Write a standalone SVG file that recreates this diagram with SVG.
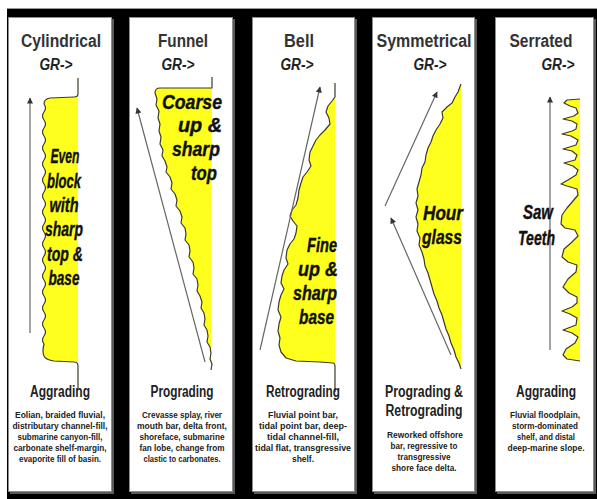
<svg xmlns="http://www.w3.org/2000/svg" width="597" height="499" viewBox="0 0 597 499">
<style>
.shadow{fill:#5a5a5a}
.panel{fill:#fff;stroke:#8c8c8c;stroke-width:1}
.title{font-family:"Liberation Sans",Arial,sans-serif;font-weight:bold;font-size:18px;fill:#333;text-anchor:middle}
.gr{font-family:"Liberation Sans",Arial,sans-serif;font-weight:bold;font-style:italic;font-size:16px;fill:#222;text-anchor:middle}
.big{font-family:"Liberation Sans",Arial,sans-serif;font-weight:bold;font-style:italic;font-size:20px;fill:#111;stroke:#111;stroke-width:0.4}
.c{text-anchor:middle}
.e{text-anchor:end}
.mode{font-family:"Liberation Sans",Arial,sans-serif;font-weight:bold;font-size:16px;fill:#222;text-anchor:middle}
.desc{font-family:"Liberation Sans",Arial,sans-serif;font-weight:bold;font-size:9px;fill:#222;text-anchor:middle}
.log{fill:#ffff1e;stroke:#3c3c28;stroke-width:1.2;stroke-linejoin:round}
.arrow{fill:none;stroke:#666;stroke-width:1.2;marker-end:url(#ah)}
</style>
<defs>
<marker id="ah" viewBox="0 0 10 10" refX="9" refY="5" markerWidth="8" markerHeight="6" orient="auto" markerUnits="userSpaceOnUse"><path d="M0,0 L10,5 L0,10 Z" fill="#333"/></marker>
</defs>
<rect x="0" y="0" width="597" height="499" fill="#fff"/>
<rect x="7" y="8" width="590" height="491" fill="#000"/>
<line x1="7" y1="8.5" x2="597" y2="8.5" stroke="#999" stroke-width="1"/>

<g id="panel-cylindrical">
<rect class="shadow" x="10" y="19" width="104" height="475"/>
<rect class="panel" x="8.5" y="17.5" width="103" height="474"/>
<text class="title" x="61" y="47" textLength="80" lengthAdjust="spacingAndGlyphs">Cylindrical</text>
<text class="gr" x="56" y="70" textLength="33" lengthAdjust="spacingAndGlyphs">GR-&gt;</text>
<path class="log" d="M78,78 V94 Q78,97 74,97 L50,98 Q44,99 44,104 Q47,108 44,112 T44,120 T44,128 T44,136 T44,144 T44,152 T44,160 T44,168 T44,176 T44,184 T44,192 T44,200 T44,208 T44,216 T44,224 T44,232 T44,240 T44,248 T44,256 T44,264 T44,272 T44,280 T44,288 T44,296 T44,304 T44,312 T44,320 T44,328 T44,336 T44,344 Q42,352 44,356 Q46,360 54,361 L74,362 Q78,362 78,366 V390"/>
<path class="arrow" d="M30,333 L30,98"/>
<text class="big c"><tspan x="65" y="163" textLength="29" lengthAdjust="spacingAndGlyphs">Even</tspan><tspan x="64" y="188" textLength="34" lengthAdjust="spacingAndGlyphs">block</tspan><tspan x="64" y="212" textLength="29" lengthAdjust="spacingAndGlyphs">with</tspan><tspan x="64" y="236" textLength="38" lengthAdjust="spacingAndGlyphs">sharp</tspan><tspan x="65" y="261" textLength="36" lengthAdjust="spacingAndGlyphs">top &amp;</tspan><tspan x="64" y="285" textLength="31" lengthAdjust="spacingAndGlyphs">base</tspan></text>
<text class="mode" x="60" y="397" textLength="60" lengthAdjust="spacingAndGlyphs">Aggrading</text>
<text class="desc"><tspan x="60" y="418" textLength="90" lengthAdjust="spacingAndGlyphs">Eolian, braided fluvial,</tspan><tspan x="60" y="429" textLength="95" lengthAdjust="spacingAndGlyphs">distributary channel-fill,</tspan><tspan x="60" y="440" textLength="85" lengthAdjust="spacingAndGlyphs">submarine canyon-fill,</tspan><tspan x="60" y="451" textLength="93" lengthAdjust="spacingAndGlyphs">carbonate shelf-margin,</tspan><tspan x="60" y="462" textLength="82" lengthAdjust="spacingAndGlyphs">evaporite fill of  basin.</tspan></text>
</g>

<g id="panel-funnel">
<rect class="shadow" x="131" y="19" width="104" height="475"/>
<rect class="panel" x="129.5" y="17.5" width="103" height="474"/>
<text class="title" x="183" y="47" textLength="50" lengthAdjust="spacingAndGlyphs">Funnel</text>
<text class="gr" x="178" y="70" textLength="33" lengthAdjust="spacingAndGlyphs">GR-&gt;</text>
<path class="log" d="M212,77 V88 L160,88 Q155,88 155,93 L157,99 L156,105 L159,111 L158,118 L160,124 L159,131 L161,137 L160,144 L163,150 L162,156 L165,161 L167,167 L166,172 L170,177 L172,183 L171,189 L175,194 L177,200 L176,206 L180,211 L182,217 L181,223 L185,228 L186,234 L185,240 L189,245 L190,251 L189,257 L193,262 L194,268 L193,274 L197,279 L198,285 L197,291 L200,296 L202,302 L201,308 L204,313 L205,319 L204,325 L207,330 L208,336 L207,342 L210,347 L211,353 L210,359 L212,364 L211,370"/>
<path class="arrow" d="M205,362 L137,108"/>
<text class="big e"><tspan x="222" y="109" textLength="60" lengthAdjust="spacingAndGlyphs">Coarse</tspan><tspan x="222" y="132" textLength="44" lengthAdjust="spacingAndGlyphs">up &amp;</tspan><tspan x="220" y="156" textLength="48" lengthAdjust="spacingAndGlyphs">sharp</tspan><tspan x="217" y="180" textLength="26" lengthAdjust="spacingAndGlyphs">top</tspan></text>
<text class="mode" x="182" y="397" textLength="63" lengthAdjust="spacingAndGlyphs">Prograding</text>
<text class="desc"><tspan x="182" y="418" textLength="80" lengthAdjust="spacingAndGlyphs">Crevasse splay, river</tspan><tspan x="182" y="429" textLength="90" lengthAdjust="spacingAndGlyphs">mouth bar, delta front,</tspan><tspan x="182" y="440" textLength="85" lengthAdjust="spacingAndGlyphs">shoreface, submarine</tspan><tspan x="182" y="451" textLength="85" lengthAdjust="spacingAndGlyphs">fan lobe, change from</tspan><tspan x="182" y="462" textLength="77" lengthAdjust="spacingAndGlyphs">clastic to carbonates.</tspan></text>
</g>

<g id="panel-bell">
<rect class="shadow" x="254" y="19" width="103" height="475"/>
<rect class="panel" x="252.5" y="17.5" width="102" height="474"/>
<text class="title" x="299" y="47" textLength="30" lengthAdjust="spacingAndGlyphs">Bell</text>
<text class="gr" x="297" y="70" textLength="33" lengthAdjust="spacingAndGlyphs">GR-&gt;</text>
<path class="log" d="M335,83 V97 L332,101 L328,106 L326,112 L329,118 L330,124 L325,130 L320,135 L316,140 L313,146 L310,152 L309,160 L311,166 L307,172 L303,177 L301,183 L299,190 L298,198 L296,205 L292,210 L290,216 L293,221 L297,226 L296,233 L294,239 L290,244 L287,250 L286,258 L288,264 L284,270 L282,276 L281,283 L284,289 L281,295 L279,302 L278,310 L281,317 L279,324 L278,331 L280,338 L279,345 L281,352 L286,358 L296,361 L320,362 L333,363 Q335,363 335,367 V392"/>
<path class="arrow" d="M260,350 L320,87"/>
<text class="big e"><tspan x="337" y="252" textLength="30" lengthAdjust="spacingAndGlyphs">Fine</tspan><tspan x="338" y="276" textLength="40" lengthAdjust="spacingAndGlyphs">up &amp;</tspan><tspan x="337" y="300" textLength="44" lengthAdjust="spacingAndGlyphs">sharp</tspan><tspan x="334" y="324" textLength="35" lengthAdjust="spacingAndGlyphs">base</tspan></text>
<text class="mode" x="303" y="397" textLength="74" lengthAdjust="spacingAndGlyphs">Retrograding</text>
<text class="desc"><tspan x="303" y="418" textLength="70" lengthAdjust="spacingAndGlyphs">Fluvial point bar,</tspan><tspan x="303" y="429" textLength="88" lengthAdjust="spacingAndGlyphs">tidal point bar, deep-</tspan><tspan x="303" y="440" textLength="72" lengthAdjust="spacingAndGlyphs">tidal channel-fill,</tspan><tspan x="303" y="451" textLength="96" lengthAdjust="spacingAndGlyphs">tidal flat, transgressive</tspan><tspan x="303" y="462" textLength="22" lengthAdjust="spacingAndGlyphs">shelf.</tspan></text>
</g>

<g id="panel-symmetrical">
<rect class="shadow" x="374" y="19" width="103" height="475"/>
<rect class="panel" x="372.5" y="17.5" width="102" height="474"/>
<text class="title" x="424" y="47" textLength="95" lengthAdjust="spacingAndGlyphs">Symmetrical</text>
<text class="gr" x="430" y="70" textLength="33" lengthAdjust="spacingAndGlyphs">GR-&gt;</text>
<path class="log" d="M461,84 L458,92 L455,97 L452,103 L447,107 L442,112 L443,118 L440,124 L436,130 L433,136 L431,142 L428,148 L426,155 L425,162 L422,168 L421,175 L419,182 L417,189 L418,196 L416,203 L418,210 L416,217 L418,224 L417,231 L420,238 L419,245 L422,252 L424,259 L425,266 L428,273 L430,280 L432,287 L434,294 L437,301 L439,308 L442,315 L444,322 L446,329 L449,336 L451,343 L454,350 L456,357 L459,363 L461,369"/>
<path class="arrow" d="M385,206 L437,92"/>
<path class="arrow" d="M451,355 L391,218"/>
<text class="big c"><tspan x="443" y="220" textLength="40" lengthAdjust="spacingAndGlyphs">Hour</tspan><tspan x="442" y="244" textLength="40" lengthAdjust="spacingAndGlyphs">glass</tspan></text>
<text class="mode"><tspan x="424" y="397" textLength="78" lengthAdjust="spacingAndGlyphs">Prograding &amp;</tspan><tspan x="424" y="416" textLength="77" lengthAdjust="spacingAndGlyphs">Retrograding</tspan></text>
<text class="desc"><tspan x="425" y="438" textLength="76" lengthAdjust="spacingAndGlyphs">Reworked offshore</tspan><tspan x="424" y="449" textLength="67" lengthAdjust="spacingAndGlyphs">bar, regressive to</tspan><tspan x="424" y="460" textLength="53" lengthAdjust="spacingAndGlyphs">transgressive</tspan><tspan x="424" y="471" textLength="65" lengthAdjust="spacingAndGlyphs">shore face delta.</tspan></text>
</g>

<g id="panel-serrated">
<rect class="shadow" x="497" y="19" width="99" height="475"/>
<rect class="panel" x="495.5" y="17.5" width="98" height="474"/>
<text class="title" x="541" y="47" textLength="63" lengthAdjust="spacingAndGlyphs">Serrated</text>
<text class="gr" x="558" y="70" textLength="33" lengthAdjust="spacingAndGlyphs">GR-&gt;</text>
<path class="log" d="M580,99 L567,100 L564,103 L570,106 L576,108 L578,113 L574,116 L563,119 L572,121 L577,124 L576,129 L572,131 L562,134 L571,136 L578,140 L576,145 L563,149 L572,151 L577,155 L575,160 L564,163 L573,166 L578,170 L576,175 L568,180 L561,184 L567,186 L577,189 L578,195 L573,201 L567,208 L562,215 L561,224 L565,228 L575,230 L578,236 L571,243 L564,249 L562,257 L568,262 L577,265 L576,272 L568,279 L563,287 L569,293 L577,297 L577,303 L572,307 L562,311 L570,314 L577,318 L576,325 L563,330 L572,333 L578,337 L575,343 L566,349 L563,355 L567,359 L580,361"/>
<path class="arrow" d="M550,350 L550,97"/>
<text class="big e"><tspan x="553" y="219" textLength="30" lengthAdjust="spacingAndGlyphs">Saw</tspan><tspan x="555" y="245" textLength="37" lengthAdjust="spacingAndGlyphs">Teeth</tspan></text>
<text class="mode" x="546" y="397" textLength="60" lengthAdjust="spacingAndGlyphs">Aggrading</text>
<text class="desc"><tspan x="545" y="418" textLength="70" lengthAdjust="spacingAndGlyphs">Fluvial floodplain,</tspan><tspan x="545" y="429" textLength="66" lengthAdjust="spacingAndGlyphs">storm-dominated</tspan><tspan x="546" y="440" textLength="58" lengthAdjust="spacingAndGlyphs">shelf, and distal</tspan><tspan x="546" y="451" textLength="77" lengthAdjust="spacingAndGlyphs">deep-marine slope.</tspan></text>
</g>
</svg>
